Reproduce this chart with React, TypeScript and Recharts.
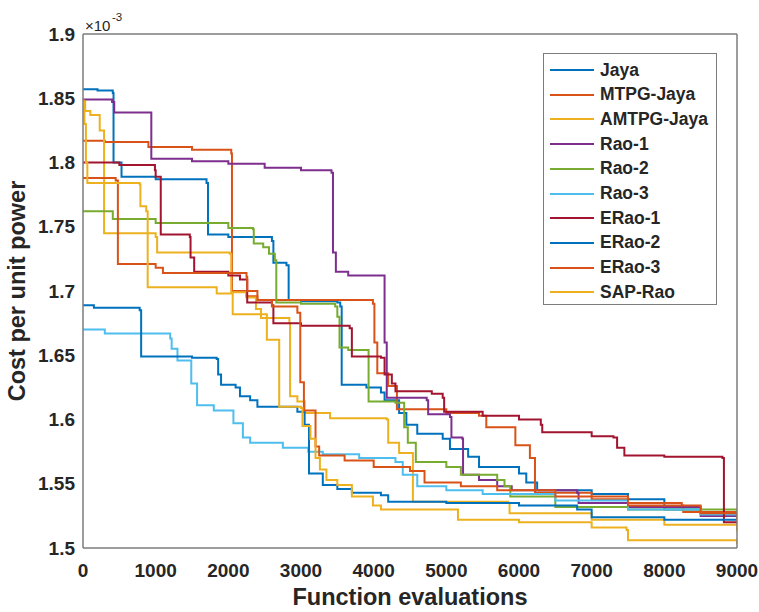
import React from 'react';
import { LineChart, Line, XAxis, YAxis } from 'recharts';

// ---- data (x: function evaluations, y: cost per unit power ×10^-3) ----
const jaya = [[0,1.857],[200,1.856],[410,1.854],[420,1.800],[530,1.789],[1000,1.787],[1700,1.784],[1720,1.744],[2000,1.742],[2600,1.739],[2620,1.722],[2800,1.720],[2830,1.693],[3000,1.692],[3500,1.691],[3540,1.688],[3560,1.627],[3900,1.625],[4100,1.621],[4150,1.615],[4350,1.605],[4450,1.596],[4600,1.589],[4950,1.585],[5050,1.577],[5300,1.571],[5450,1.563],[6000,1.558],[6100,1.551],[6250,1.545],[7000,1.542],[7500,1.538],[8000,1.530],[8500,1.527],[9000,1.524]];
const mtpgJaya = [[0,1.817],[300,1.816],[900,1.812],[1500,1.810],[2040,1.807],[2050,1.700],[2250,1.696],[2400,1.693],[3990,1.690],[4010,1.660],[4050,1.636],[4200,1.626],[4320,1.608],[5000,1.605],[5450,1.603],[5550,1.594],[5950,1.580],[6150,1.570],[6220,1.543],[7000,1.538],[7500,1.535],[8240,1.533],[8260,1.528],[9000,1.525]];
const amtpgJaya = [[0,1.848],[30,1.840],[100,1.837],[230,1.825],[280,1.825],[290,1.745],[1000,1.742],[1020,1.730],[2020,1.729],[2040,1.699],[2250,1.695],[2380,1.686],[2450,1.679],[2840,1.675],[2850,1.618],[2950,1.614],[3050,1.605],[3400,1.601],[4180,1.600],[4200,1.582],[4350,1.574],[4540,1.536],[5850,1.535],[5870,1.527],[7000,1.522],[8000,1.518],[9000,1.513]];
const rao1 = [[0,1.849],[400,1.847],[430,1.839],[930,1.839],[940,1.803],[1500,1.801],[2000,1.799],[2500,1.796],[3000,1.794],[3420,1.792],[3440,1.730],[3480,1.715],[3650,1.712],[4100,1.712],[4150,1.660],[4180,1.617],[4730,1.615],[4750,1.604],[5050,1.602],[5070,1.586],[5220,1.585],[5230,1.557],[5450,1.553],[5700,1.548],[5900,1.545],[6800,1.543],[6820,1.535],[7500,1.532],[8500,1.525],[9000,1.522]];
const rao2 = [[0,1.762],[410,1.756],[1000,1.753],[2000,1.749],[2340,1.748],[2350,1.737],[2480,1.734],[2560,1.729],[2640,1.724],[2660,1.691],[3000,1.690],[3470,1.688],[3500,1.680],[3530,1.656],[3650,1.654],[3920,1.654],[3930,1.614],[4300,1.613],[4420,1.594],[4470,1.582],[4580,1.567],[5000,1.563],[5200,1.557],[5700,1.553],[5800,1.548],[5880,1.540],[6500,1.532],[7500,1.530],[9000,1.527]];
const rao3 = [[0,1.670],[300,1.667],[1200,1.663],[1220,1.655],[1300,1.646],[1470,1.646],[1490,1.628],[1570,1.611],[1800,1.607],[2070,1.597],[2200,1.586],[2300,1.582],[2700,1.582],[2750,1.578],[3100,1.575],[3300,1.573],[3800,1.570],[4300,1.567],[4400,1.557],[4600,1.548],[5000,1.545],[5500,1.542],[6500,1.537],[7500,1.530],[8500,1.526],[9000,1.524]];
const erao1 = [[0,1.800],[500,1.798],[990,1.794],[1000,1.789],[1060,1.789],[1070,1.744],[1470,1.742],[1480,1.726],[1530,1.715],[2000,1.712],[2160,1.709],[2260,1.691],[2600,1.689],[2620,1.675],[3000,1.673],[3670,1.671],[3700,1.649],[4100,1.648],[4150,1.635],[4250,1.628],[4300,1.622],[4800,1.620],[4950,1.617],[4970,1.606],[5500,1.603],[6000,1.600],[6300,1.596],[6320,1.590],[7000,1.587],[7300,1.586],[7350,1.578],[7450,1.572],[8000,1.571],[8800,1.570],[8820,1.520],[9000,1.519]];
const erao2 = [[0,1.689],[150,1.687],[780,1.685],[800,1.649],[1500,1.648],[1840,1.647],[1860,1.635],[1900,1.627],[2100,1.625],[2160,1.618],[2300,1.615],[2400,1.610],[2900,1.610],[2950,1.606],[3050,1.596],[3110,1.558],[3300,1.549],[3500,1.546],[3700,1.543],[4100,1.541],[4200,1.536],[5000,1.535],[6000,1.533],[6800,1.530],[7000,1.524],[8000,1.522],[9000,1.521]];
const erao3 = [[0,1.788],[450,1.786],[480,1.721],[1000,1.718],[1100,1.714],[2250,1.711],[2260,1.700],[2400,1.693],[2600,1.688],[2950,1.683],[2990,1.629],[3040,1.607],[3200,1.579],[3250,1.572],[3600,1.568],[4000,1.563],[4500,1.560],[4700,1.551],[5200,1.548],[5700,1.545],[6500,1.540],[7500,1.533],[8500,1.527],[9000,1.521]];
const sapRao = [[0,1.848],[20,1.830],[40,1.800],[60,1.784],[780,1.783],[790,1.766],[870,1.762],[890,1.703],[1840,1.698],[2060,1.682],[2530,1.662],[2700,1.610],[3000,1.609],[3020,1.595],[3130,1.585],[3200,1.570],[3260,1.561],[3350,1.553],[3500,1.549],[3700,1.540],[3990,1.533],[4100,1.530],[5150,1.530],[5160,1.522],[6000,1.520],[7000,1.516],[7480,1.514],[7500,1.506],[9000,1.503]];

const seriesNames = ['Jaya','MTPG-Jaya','AMTPG-Jaya','Rao-1','Rao-2','Rao-3','ERao-1','ERao-2','ERao-3','SAP-Rao'];
const seriesData = [jaya, mtpgJaya, amtpgJaya, rao1, rao2, rao3, erao1, erao2, erao3, sapRao];
const seriesColors = ['#0072BD','#D95319','#EDB120','#7E2F8E','#77AC30','#4DBEEE','#A2142F','#0072BD','#D95319','#EDB120'];

const xTicks = [0,1000,2000,3000,4000,5000,6000,7000,8000,9000];
const yTicks = [1.5,1.55,1.6,1.65,1.7,1.75,1.8,1.85,1.9];
const anchorPts = [{ x: 0, y: 1.5 }, { x: 9000, y: 1.9 }];

const toPts = (arr: number[][]) => arr.map(([x, y]) => ({ x, y }));

const FONT = '"Liberation Sans", Arial, Helvetica, sans-serif';
const AXIS = '#7d7d7d';
const TEXT = '#262626';

export default function App() {
  const tickStyle = { fontFamily: FONT, fontWeight: 700, fontSize: 19, fill: TEXT };
  return (
    <div style={{ position: 'absolute', left: 0, top: 0, width: 759, height: 612, background: '#fff' }}>
      <LineChart width={759} height={612} margin={{ top: 34, right: 22, bottom: 0, left: 0 }}>
        <XAxis xAxisId="b" type="number" dataKey="x" domain={[0, 9000]} allowDataOverflow ticks={xTicks}
          height={64} tickSize={0} tickMargin={16} tickLine={false}
          axisLine={{ stroke: AXIS, strokeWidth: 1.5 }} tick={tickStyle} interval={0} />
        <XAxis xAxisId="bi" type="number" dataKey="x" domain={[0, 9000]} allowDataOverflow ticks={xTicks}
          orientation="bottom" mirror height={1} tickSize={5} tick={false} axisLine={false}
          tickLine={{ stroke: AXIS, strokeWidth: 1.2 }} interval={0} />
        <XAxis xAxisId="t" type="number" dataKey="x" domain={[0, 9000]} allowDataOverflow ticks={xTicks}
          orientation="top" mirror height={1} tickSize={5} tick={false}
          axisLine={{ stroke: AXIS, strokeWidth: 1.5 }} tickLine={{ stroke: AXIS, strokeWidth: 1.2 }} interval={0} />
        <YAxis yAxisId="l" type="number" domain={[1.5, 1.9]} allowDataOverflow ticks={yTicks}
          width={83} tickSize={0} tickMargin={8} tickLine={false}
          axisLine={{ stroke: AXIS, strokeWidth: 1.5 }} tick={tickStyle} interval={0}
          tickFormatter={(v: number) => String(v)} />
        <YAxis yAxisId="li" type="number" domain={[1.5, 1.9]} allowDataOverflow ticks={yTicks}
          orientation="left" mirror width={1} tickSize={5} tick={false} axisLine={false}
          tickLine={{ stroke: AXIS, strokeWidth: 1.2 }} interval={0} />
        <YAxis yAxisId="r" type="number" domain={[1.5, 1.9]} allowDataOverflow ticks={yTicks}
          orientation="right" mirror width={1} tickSize={5} tick={false}
          axisLine={{ stroke: AXIS, strokeWidth: 1.5 }} tickLine={{ stroke: AXIS, strokeWidth: 1.2 }} interval={0} />
        <Line xAxisId="bi" yAxisId="li" data={anchorPts} dataKey="y" stroke="none" dot={false} activeDot={false}
          legendType="none" isAnimationActive={false} />
        <Line xAxisId="t" yAxisId="r" data={anchorPts} dataKey="y" stroke="none" dot={false} activeDot={false}
          legendType="none" isAnimationActive={false} />
        {seriesNames.map((name, i) => (
          <Line key={name} name={name} xAxisId="b" yAxisId="l" data={toPts(seriesData[i])} dataKey="y"
            type="stepAfter" stroke={seriesColors[i]} strokeWidth={2} dot={false} activeDot={false}
            isAnimationActive={false} />
        ))}
      </LineChart>
      <svg width={759} height={612} style={{ position: 'absolute', left: 0, top: 0, pointerEvents: 'none' }}>
        <text x={85} y={31} fontFamily={FONT} fontSize={15} fill={TEXT}>×10</text>
        <text x={112} y={21} fontFamily={FONT} fontSize={11.5} fill={TEXT}>-3</text>
        <text x={410} y={605} textAnchor="middle" fontFamily={FONT} fontWeight={700} fontSize={23.5} fill={TEXT}>Function evaluations</text>
        <text transform="translate(25,291) rotate(-90)" textAnchor="middle" fontFamily={FONT} fontWeight={700} fontSize={23.5} fill={TEXT}>Cost per unit power</text>
      </svg>
      <div style={{ position: 'absolute', left: 543, top: 53, width: 172, height: 250, border: `1.5px solid ${AXIS}`, background: '#fff', boxSizing: 'content-box' }}>
        {seriesNames.map((name, i) => (
          <div key={name} style={{ position: 'absolute', left: 0, top: 4 + i * 24.7, height: 24, width: 172, display: 'flex', alignItems: 'center' }}>
            <div style={{ marginLeft: 6, width: 44, height: 2, background: seriesColors[i] }} />
            <span style={{ marginLeft: 6, fontFamily: FONT, fontWeight: 700, fontSize: 17.5, color: TEXT, whiteSpace: 'nowrap' }}>{name}</span>
          </div>
        ))}
      </div>
    </div>
  );
}
